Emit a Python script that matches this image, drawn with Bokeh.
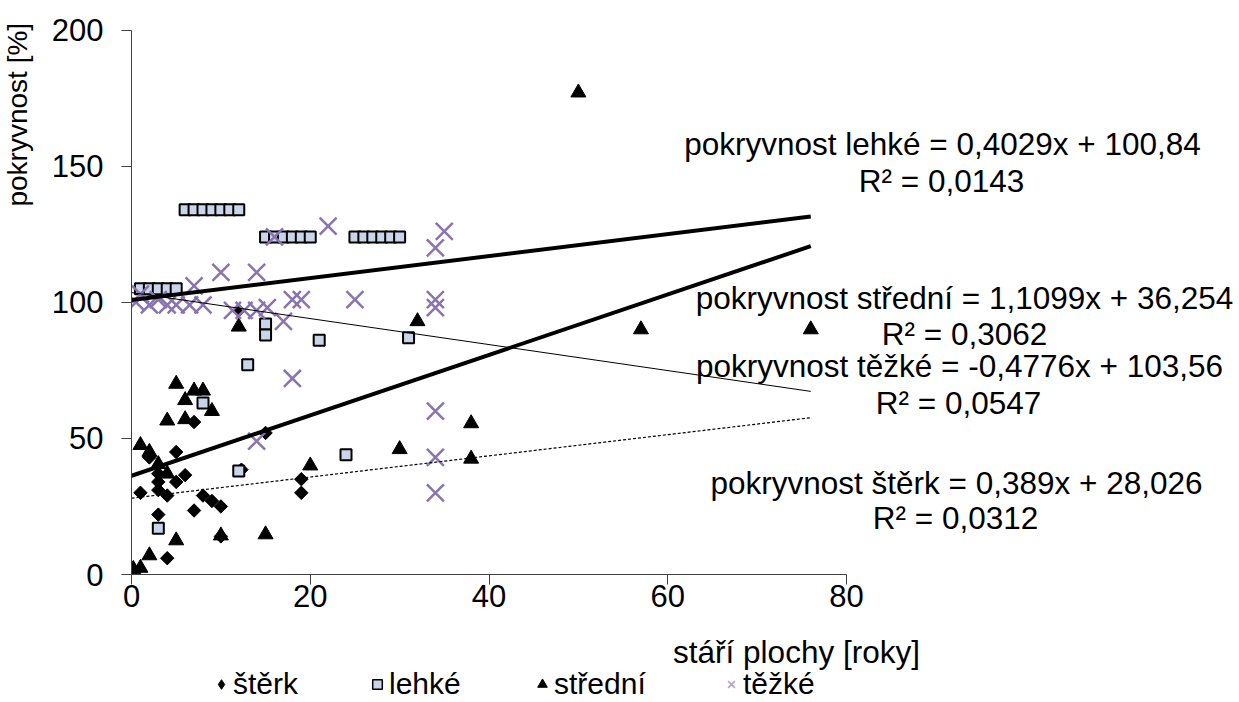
import numpy as np
from bokeh.plotting import figure
from bokeh.layouts import row, column
from bokeh.models import Range1d, FixedTicker, Label, Legend, LegendItem
from bokeh.embed import file_html
from bokeh.resources import INLINE

# ---------------- data ----------------
sterk_x = [12, 15, 5, 2, 7, 6, 3, 3, 5, 1, 3, 4, 8, 9, 10, 7, 3, 19, 19, 12.3, 10, 4]
sterk_y = [97, 52, 45, 43, 56, 36.5, 37, 34, 34, 30, 31, 29, 29, 27, 25, 23.5, 22, 35, 30, 38.5, 14, 6]

lehke_x = [1, 2, 3, 4, 5,
           6, 7, 8, 9, 10, 11, 12,
           15, 16, 17, 18, 19, 20,
           25, 26, 27, 28, 29, 30,
           15, 15, 21, 31, 13, 8, 24, 12, 3]
lehke_y = [105, 105, 105, 105, 105,
           134, 134, 134, 134, 134, 134, 134,
           124, 124, 124, 124, 124, 124,
           124, 124, 124, 124, 124, 124,
           92, 88, 86, 87, 77, 63, 44, 38, 17]

stredni_x = [50, 57, 76, 32, 12, 5, 7, 8, 6, 9, 4, 6, 38, 1, 2, 30, 38, 20, 3, 4, 5, 15, 10, 2, 0.2, 1]
stredni_y = [177, 90, 90, 93, 91, 70, 67.5, 67.5, 64, 60, 56.5, 57, 55.5, 47.5, 45, 46, 42.5, 40, 40.5, 37,
             12.5, 14.7, 14.3, 7, 2, 2.4]

tezke_x = [0.5, 1, 2, 3, 4, 5, 6.5, 8, 7, 10, 11.3, 12.6, 14, 14, 15.2, 16, 17, 18, 19, 18,
           22, 25, 34, 35, 34, 34, 34, 34, 34, 14]
tezke_y = [100, 103, 99, 101, 99, 99, 99, 99, 106, 111, 97, 97, 97, 111, 98, 124, 93, 101, 101, 72,
           128, 101, 120, 126, 101, 98, 60, 43, 30, 49]

series_names = ["štěrk", "lehké", "střední", "těžké"]
slopes = [0.389, 0.4029, 1.1099, -0.4776]
intercepts = [28.026, 100.84, 36.254, 103.56]
eq_labels = ["pokryvnost štěrk = 0,389x + 28,026",
             "pokryvnost lehké = 0,4029x + 100,84",
             "pokryvnost střední = 1,1099x + 36,254",
             "pokryvnost těžké = -0,4776x + 103,56"]
r2_labels = ["R² = 0,0312", "R² = 0,0143", "R² = 0,3062", "R² = 0,0547"]

x_ticks = [0, 20, 40, 60, 80]
y_ticks = [0, 50, 100, 150, 200]
x_title = "stáří plochy [roky]"
y_title = "pokryvnost [%]"

# ---------------- layout constants (pixels) ----------------
FONT = "Liberation Sans"
PAGE_W, PAGE_H = 1239, 702
X0_PX, Y0_PX = 131.0, 573.5     # page position of (0, 0)
PXX, PXY = 8.9375, 2.72          # pixels per data unit

def dx(px):  # page x -> data x
    return (px - X0_PX) / PXX

def dy(py):  # page y -> data y
    return (Y0_PX - py) / PXY

LEFT_W = 40                      # strip holding the y title
MAIN_H = 624                     # main figure height
ML, MT, MB = int(X0_PX) - LEFT_W, 18, MAIN_H - 574
MAIN_W = PAGE_W - LEFT_W
BOT_H = PAGE_H - MAIN_H

def clean(fig):
    fig.outline_line_color = None
    fig.grid.visible = False
    fig.background_fill_color = "white"
    fig.border_fill_color = "white"

# ---------------- main figure ----------------
p = figure(width=MAIN_W, height=MAIN_H,
           x_range=Range1d(0, dx(PAGE_W)), y_range=Range1d(0, dy(MT)),
           output_backend="svg", toolbar_location=None,
           min_border_left=ML, min_border_right=0, min_border_top=MT, min_border_bottom=MB)
clean(p)

axis_color = "#404040"
p.yaxis.ticker = FixedTicker(ticks=y_ticks)
p.xaxis.ticker = FixedTicker(ticks=x_ticks)
p.yaxis.bounds = (0, 200)
p.xaxis.bounds = (0, 80)
for ax, standoff in ((p.yaxis[0], 18), (p.xaxis[0], 0)):
    ax.axis_line_color = axis_color
    ax.axis_line_width = 1
    ax.major_tick_line_color = axis_color
    ax.major_tick_in = 0
    ax.major_tick_out = 10
    ax.minor_tick_line_color = None
    ax.major_label_text_font = FONT
    ax.major_label_text_font_size = "31px"
    ax.major_label_text_color = "black"
    ax.major_label_standoff = standoff

purple = "#8a74b0"
styles = [
    dict(marker="square", angle=np.pi / 4, size=9.5, fill_color="black", line_color="black"),
    dict(marker="square", size=11, fill_color="#c9d6ea", line_color="black", line_width=2),
    dict(marker="triangle", size=15, fill_color="black", line_color="black"),
    dict(marker="x", size=24, line_color=purple, line_width=2.5),
]
leg_styles = [
    dict(marker="diamond", size=10, fill_color="black", line_color="black"),
    dict(marker="square", size=10, fill_color="#c9d6ea", line_color="black", line_width=1.5),
    dict(marker="triangle", size=10, fill_color="black", line_color="black"),
    dict(marker="x", size=10, line_color="#b0a3cf", line_width=1.5),
]
series = [(sterk_x, sterk_y), (lehke_x, lehke_y), (stredni_x, stredni_y), (tezke_x, tezke_y)]

for (sx, sy), st in zip(series, styles):
    p.scatter(sx, sy, **st)

# trend lines
all_x = sterk_x + lehke_x + stredni_x + tezke_x
xs = np.array([0.0, max(all_x)])
line_styles = [dict(line_width=1.2, line_dash="3 2"),
               dict(line_width=4),
               dict(line_width=4),
               dict(line_width=1)]
for k, b, st in zip(slopes, intercepts, line_styles):
    p.line(xs, k * xs + b, line_color="black", **st)

# equation labels (page pixel centres converted to data coords)
eq_px = [(956, 482), (942, 143), (964, 297), (959, 365)]
r2_px = [(955, 517), (941, 180), (964, 333), (958, 402)]
for t, (x, y) in zip(eq_labels, eq_px):
    p.add_layout(Label(x=dx(x), y=dy(y), text=t, text_font=FONT, text_font_size="31.5px",
                       text_align="center", text_baseline="middle", text_color="black"))
for t, (x, y) in zip(r2_labels, r2_px):
    p.add_layout(Label(x=dx(x), y=dy(y), text=t, text_font=FONT, text_font_size="31.5px",
                       text_align="center", text_baseline="middle", text_color="black"))

# ---------------- left strip: y title ----------------
pl = figure(width=LEFT_W, height=MAIN_H,
            x_range=Range1d(dx(0), dx(LEFT_W)), y_range=Range1d(dy(MAIN_H), dy(0)),
            x_axis_location=None, y_axis_location=None,
            output_backend="svg", toolbar_location=None,
            min_border_left=0, min_border_right=0, min_border_top=0, min_border_bottom=0)
clean(pl)
pl.add_layout(Label(x=dx(17), y=dy(108), text=y_title, angle=np.pi / 2, text_font=FONT,
                    text_font_size="28px", text_align="center", text_baseline="middle",
                    text_color="black"))

# ---------------- bottom strip: x title + legend ----------------
pb = figure(width=PAGE_W, height=BOT_H,
            x_range=Range1d(dx(0), dx(PAGE_W)), y_range=Range1d(dy(PAGE_H), dy(MAIN_H)),
            x_axis_location=None, y_axis_location=None,
            output_backend="svg", toolbar_location=None,
            min_border_left=0, min_border_right=0, min_border_top=0, min_border_bottom=0)
clean(pb)
pb.add_layout(Label(x=dx(796), y=dy(651), text=x_title, text_font=FONT, text_font_size="31.5px",
                    text_align="center", text_baseline="middle", text_color="black"))

# legend swatches: same series, lying outside this strip's visible data window
leg_renderers = [pb.scatter(sx, sy, **st) for (sx, sy), st in zip(series, leg_styles)]
leg_left_px = [209, 365, 530, 719]
for name, r, lx in zip(series_names, leg_renderers, leg_left_px):
    lg = Legend(items=[LegendItem(label=name, renderers=[r])], location=(lx, 1),
                orientation="horizontal", glyph_width=24, glyph_height=32, label_height=32,
                label_standoff=0, padding=0, margin=0, spacing=0,
                label_text_font=FONT, label_text_font_size="30px", label_text_color="black",
                border_line_color=None, background_fill_alpha=0)
    pb.add_layout(lg)

layout = column(row(pl, p, spacing=0), pb, spacing=0)
open("out.html", "w").write(file_html(layout, INLINE))
